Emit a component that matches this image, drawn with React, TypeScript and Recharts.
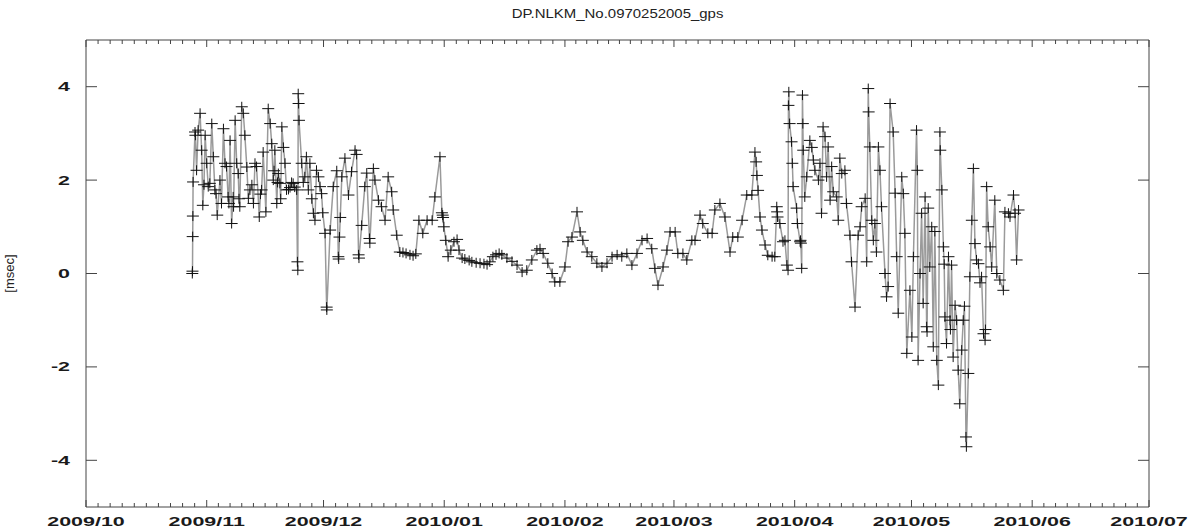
import React from 'react';
import { LineChart, Line, XAxis, YAxis } from 'recharts';

// days counted from 2009/10/01, value in msec
const novPoints: [number, number][] = [
  [27.3, 0.0], [27.35, 0.05], [27.4, 0.79], [27.45, 1.23], [27.5, 1.96], [28.0, 3.03], [28.1, 2.96], [28.4, 2.21],
  [28.8, 3.07], [29.3, 3.43], [29.7, 2.64], [30.0, 1.46], [30.3, 1.9], [30.6, 2.96], [31.0, 2.36], [31.4, 1.86],
  [31.8, 1.93], [32.3, 3.21], [32.7, 2.5], [33.1, 1.79], [33.4, 1.71], [33.7, 1.25], [34.4, 2.0], [34.8, 1.5],
  [35.3, 3.1], [35.7, 2.36], [36.1, 2.29], [36.5, 1.64], [36.7, 1.5], [37.0, 2.85], [37.4, 1.07], [37.8, 1.64],
  [37.9, 1.43], [38.3, 3.28], [38.7, 2.36], [39.1, 2.14], [39.3, 1.6], [39.5, 1.43], [40.0, 3.57], [40.4, 3.43],
  [40.8, 2.96], [41.3, 2.28], [41.7, 1.61], [42.1, 1.79], [42.6, 1.9], [43.0, 1.5], [43.4, 2.36], [43.8, 2.29],
  [44.5, 1.21], [44.8, 1.7], [45.1, 1.79], [45.5, 2.6], [46.2, 1.32], [46.8, 3.53], [47.3, 3.21], [47.7, 2.78],
  [48.1, 2.0], [48.3, 2.2], [48.5, 2.64], [49.0, 1.5], [49.2, 1.95], [49.4, 2.14], [49.8, 1.93], [50.0, 1.6],
  [50.3, 3.14], [50.7, 2.7], [51.1, 2.36], [51.5, 1.79], [52.0, 1.8], [52.4, 1.84], [52.8, 1.95], [53.2, 1.93],
  [53.6, 1.85], [54.1, 1.79], [54.3, 0.25], [54.4, 0.07], [54.5, 3.85], [54.6, 3.64], [54.7, 3.28], [55.4, 2.36],
  [55.8, 1.95], [56.2, 2.07], [56.6, 2.5], [57.1, 1.79], [57.5, 2.36], [58.0, 1.6], [58.4, 1.29], [58.8, 1.14],
  [59.2, 2.21], [59.7, 2.07], [60.1, 1.86], [60.5, 1.71], [60.8, 1.3], [61.4, 0.86], [61.8, -0.72], [61.85, -0.78],
];

const decPoints: [number, number][] = [
  [62.7, 0.93], [63.5, 1.86], [64.4, 2.2], [64.8, 0.36], [64.9, 0.31], [65.1, 0.78], [65.3, 1.2], [65.7, 2.07],
  [66.5, 2.47], [67.4, 1.68], [68.2, 2.18], [69.1, 2.64], [69.5, 2.55], [70.0, 0.4], [70.1, 0.33], [70.8, 1.03],
  [71.6, 1.86], [72.1, 2.15], [72.8, 0.75], [72.9, 0.65], [73.8, 2.25], [74.2, 2.0], [75.1, 1.57], [75.9, 1.43],
  [76.8, 1.14], [77.6, 2.07], [78.5, 1.75], [78.9, 1.36], [79.8, 0.82], [80.6, 0.46], [81.4, 0.45], [82.2, 0.43],
  [83.2, 0.4], [84.0, 0.38], [84.7, 0.42], [85.5, 1.14], [86.5, 0.86], [87.6, 1.14], [88.9, 1.14], [89.6, 1.64],
  [90.9, 2.5], [91.4, 1.3], [91.6, 1.25], [91.7, 1.2], [91.9, 1.0], [92.4, 0.71], [93.0, 0.36],
];

const winterPoints: [number, number][] = [
  [93.7, 0.5], [94.5, 0.68], [95.3, 0.73], [95.8, 0.5], [96.6, 0.33], [97.3, 0.31], [98.4, 0.28], [99.1, 0.25],
  [100.2, 0.23], [101.2, 0.22], [102.2, 0.21], [103.0, 0.19], [103.7, 0.25], [104.5, 0.36], [105.3, 0.4], [106.1, 0.43],
  [106.8, 0.4], [108.1, 0.33], [109.4, 0.26], [110.7, 0.18], [112.0, 0.03], [113.2, 0.07], [114.5, 0.29], [115.8, 0.5],
  [116.6, 0.53], [117.4, 0.43], [118.6, 0.22], [119.7, 0.0], [120.4, -0.18], [121.7, -0.18], [123.0, 0.14], [123.8, 0.68],
  [124.8, 0.78], [126.1, 1.32], [126.9, 0.89], [127.6, 0.71], [128.7, 0.46], [129.9, 0.36], [131.2, 0.22], [132.5, 0.14],
  [133.8, 0.22], [135.1, 0.36], [136.4, 0.4], [137.6, 0.36], [138.9, 0.43], [140.2, 0.18], [141.5, 0.43], [142.8, 0.71],
  [144.1, 0.75], [145.3, 0.53], [146.1, 0.11], [146.9, -0.25], [148.2, 0.14], [149.2, 0.5], [150.0, 0.89], [151.3, 0.89],
  [152.0, 0.43], [153.3, 0.43], [154.3, 0.29], [155.6, 0.71], [156.4, 0.71], [157.7, 1.25], [158.4, 1.07], [159.7, 0.86],
  [160.8, 0.86], [161.5, 1.36], [162.8, 1.5], [164.1, 1.21], [165.4, 0.46], [166.1, 0.78], [167.4, 0.78], [168.5, 1.14],
  [169.7, 1.68], [171.0, 1.68], [171.8, 2.6], [172.1, 2.39], [172.3, 2.1], [172.6, 1.78], [173.1, 1.21], [173.6, 0.93],
  [174.4, 0.61], [175.1, 0.39], [176.2, 0.36], [176.9, 0.36], [177.4, 1.43], [177.5, 1.32], [177.6, 1.21], [178.2, 1.07],
  [179.0, 0.68], [179.5, 0.71], [180.0, 0.18], [180.3, 0.07],
];

const aprPoints: [number, number][] = [
  [180.4, 3.6], [180.5, 3.89], [180.7, 3.21], [181.2, 2.82], [181.4, 2.36], [181.6, 1.86], [182.5, 1.4], [182.7, 1.07],
  [183.4, 0.68], [183.5, 0.71], [183.6, 0.65], [183.8, 0.11], [184.0, 3.82], [184.1, 3.21], [184.2, 2.64], [184.6, 1.64],
  [185.1, 2.07], [185.9, 2.85], [186.4, 2.7], [186.8, 2.43], [187.2, 2.21], [188.1, 2.0], [188.5, 2.36], [188.9, 1.29],
  [189.3, 3.14], [189.8, 2.93], [190.2, 2.07], [190.6, 2.71], [191.1, 1.57], [191.5, 2.29], [191.9, 1.75], [192.8, 1.64],
  [193.2, 1.14], [193.6, 2.47], [194.1, 2.14], [194.9, 2.21], [195.3, 1.5], [196.2, 0.82], [196.6, 0.25], [197.5, -0.72],
  [198.3, 0.82], [198.8, 1.0], [199.2, 1.43], [200.1, 1.61], [200.5, 0.25], [200.9, 3.96], [201.0, 3.46], [201.3, 2.71],
  [201.8, 1.14], [202.2, 0.71], [202.6, 1.07], [203.0, 0.46], [203.5, 2.71], [203.9, 2.21], [204.3, 1.43], [205.2, 0.0],
  [205.6, -0.5], [206.0, -0.28], [206.5, 3.64], [207.3, 3.03], [207.8, 1.72], [208.2, 0.36], [208.6, -0.85],
];

const mayPoints: [number, number][] = [
  [209.5, 2.07], [209.9, 1.71], [210.3, 0.86], [210.8, -1.71], [211.6, -0.36], [212.1, -1.36], [212.5, 0.36], [213.3, 3.07],
  [213.5, 2.21], [213.7, -1.86], [214.2, 0.0], [214.6, 1.29], [215.0, -0.64], [215.5, 1.64], [215.9, -1.14], [216.0, -1.25],
  [216.3, 1.4], [216.7, 0.14], [217.2, 1.0], [217.6, -1.57], [218.0, 0.9], [218.5, -1.86], [218.9, -2.39], [219.3, 3.03],
  [219.4, 2.64], [219.8, 1.79], [220.2, 0.57], [220.4, 0.2], [220.6, -0.93], [221.0, -1.5], [221.5, 0.36], [221.9, -1.0],
  [222.0, -1.2], [222.3, 0.18], [222.7, -1.79], [223.2, -0.68], [223.6, -1.0], [224.0, -2.07], [224.4, -2.79], [224.9, -1.64],
  [225.3, -1.0], [225.6, -0.7], [226.0, -3.5], [226.1, -3.71], [226.6, -2.14], [227.0, -0.07], [227.5, 1.14], [227.9, 2.25],
  [228.3, 0.64], [228.7, 0.29], [229.2, 0.21], [229.6, -0.2], [230.0, -0.07], [230.5, -1.29], [230.9, -1.43], [231.0, -1.2],
  [231.3, 1.86], [231.7, 1.0], [232.2, 0.57], [232.6, 0.14], [233.4, 1.57], [233.9, 0.0], [234.7, -0.14], [235.6, -0.36],
  [236.0, 1.32], [236.9, 1.29], [237.3, 1.21], [238.2, 1.68], [238.6, 1.29], [239.0, 0.29], [239.5, 1.36],
];

const monthLabels = ['2009/10', '2009/11', '2009/12', '2010/01', '2010/02', '2010/03', '2010/04', '2010/05', '2010/06', '2010/07'];
const monthStartDays = [0, 31, 61, 92, 123, 151, 182, 212, 243, 273];
const yTicks = [-4, -2, 0, 2, 4];

const TITLE = 'DP.NLKM_No.0970252005_gps';
const FONT = '"Liberation Sans", Arial, sans-serif';
const AXIS = '#444';

// 9 minor ticks inside each month
const minorTicks = monthStartDays.slice(0, -1).flatMap((s, i) => {
  const len = monthStartDays[i + 1] - s;
  return [1, 2, 3, 4, 5, 6, 7, 8, 9].map((k) => s + (len * k) / 10);
});
const xTicks = [...monthStartDays, ...minorTicks].sort((a, b) => a - b);

const data = [...novPoints, ...decPoints, ...winterPoints, ...aprPoints, ...mayPoints]
  .sort((a, b) => a[0] - b[0])
  .map(([day, msec]) => ({ day, msec }));

const BottomTick = ({ x, y, payload }: any) => {
  const idx = monthStartDays.indexOf(payload.value);
  const major = idx >= 0;
  return (
    <g>
      <line x1={x} x2={x} y1={y} y2={y - (major ? 7 : 4)} stroke={AXIS} />
      {major && (
        <text
          transform={`translate(${x},${y + 19}) scale(1.65,1)`}
          textAnchor="middle"
          fontSize={13}
          fontWeight="bold"
          fill="#1a1a1a"
          fontFamily={FONT}
        >
          {monthLabels[idx]}
        </text>
      )}
    </g>
  );
};

const TopTick = ({ x, y, payload }: any) => {
  const major = monthStartDays.includes(payload.value);
  return <line x1={x} x2={x} y1={y} y2={y + (major ? 7 : 4)} stroke={AXIS} />;
};

const LeftTick = ({ x, y, payload }: any) => (
  <g>
    <line x1={x} x2={x + 11} y1={y} y2={y} stroke={AXIS} />
    <text
      transform={`translate(${x - 16},${y + 4.5}) scale(1.65,1)`}
      textAnchor="end"
      fontSize={13}
      fontWeight="bold"
      fill="#1a1a1a"
      fontFamily={FONT}
    >
      {payload.value}
    </text>
  </g>
);

const RightTick = ({ x, y }: any) => <line x1={x} x2={x - 11} y1={y} y2={y} stroke={AXIS} />;

const PlusDot = ({ cx, cy, index }: any) => (
  <path key={`p${index}`} d={`M${cx - 6},${cy}h12M${cx},${cy - 5}v10`} stroke="#111" strokeWidth={1} fill="none" />
);

const YLabel = ({ viewBox }: any) => {
  const cy = viewBox.y + viewBox.height / 2;
  return (
    <text transform={`translate(14,${cy}) rotate(-90)`} textAnchor="middle" fontSize={13} fill="#222" fontFamily={FONT}>
      [msec]
    </text>
  );
};

export default function App() {
  return (
    <div style={{ position: 'absolute', left: 0, top: 0, width: 1199, height: 528, background: '#fff' }}>
      <div
        style={{
          position: 'absolute',
          left: 86,
          top: 6,
          width: 1063,
          textAlign: 'center',
          fontFamily: FONT,
          fontSize: 13,
          color: '#222',
          transform: 'scaleX(1.15)',
          transformOrigin: '531px 0',
        }}
      >
        {TITLE}
      </div>
      <LineChart width={1199} height={528} data={data} margin={{ top: 0, right: 0, bottom: 0, left: 0 }}>
        <XAxis
          xAxisId="b"
          dataKey="day"
          type="number"
          domain={[0, 273]}
          allowDataOverflow
          ticks={xTicks}
          interval={0}
          height={21}
          tickSize={0}
          tickMargin={0}
          tickLine={false}
          axisLine={{ stroke: AXIS }}
          tick={(p: any) => <BottomTick {...p} />}
        />
        <XAxis
          xAxisId="t"
          orientation="top"
          dataKey="day"
          type="number"
          domain={[0, 273]}
          allowDataOverflow
          ticks={xTicks}
          interval={0}
          height={40}
          tickSize={0}
          tickMargin={0}
          tickLine={false}
          axisLine={{ stroke: AXIS }}
          tick={(p: any) => <TopTick {...p} />}
        />
        <YAxis
          yAxisId="l"
          type="number"
          domain={[-5, 5]}
          allowDataOverflow
          ticks={yTicks}
          interval={0}
          width={86}
          tickSize={0}
          tickMargin={0}
          tickLine={false}
          axisLine={{ stroke: AXIS }}
          tick={(p: any) => <LeftTick {...p} />}
          label={<YLabel />}
        />
        <YAxis
          yAxisId="r"
          orientation="right"
          type="number"
          domain={[-5, 5]}
          allowDataOverflow
          ticks={yTicks}
          interval={0}
          width={50}
          tickSize={0}
          tickMargin={0}
          tickLine={false}
          axisLine={{ stroke: AXIS }}
          tick={(p: any) => <RightTick {...p} />}
        />
        <Line
          xAxisId="b"
          yAxisId="l"
          type="linear"
          dataKey="msec"
          stroke="#9a9a9a"
          strokeWidth={1.5}
          dot={(p: any) => <PlusDot {...p} />}
          activeDot={false}
          isAnimationActive={false}
        />
      </LineChart>
    </div>
  );
}
